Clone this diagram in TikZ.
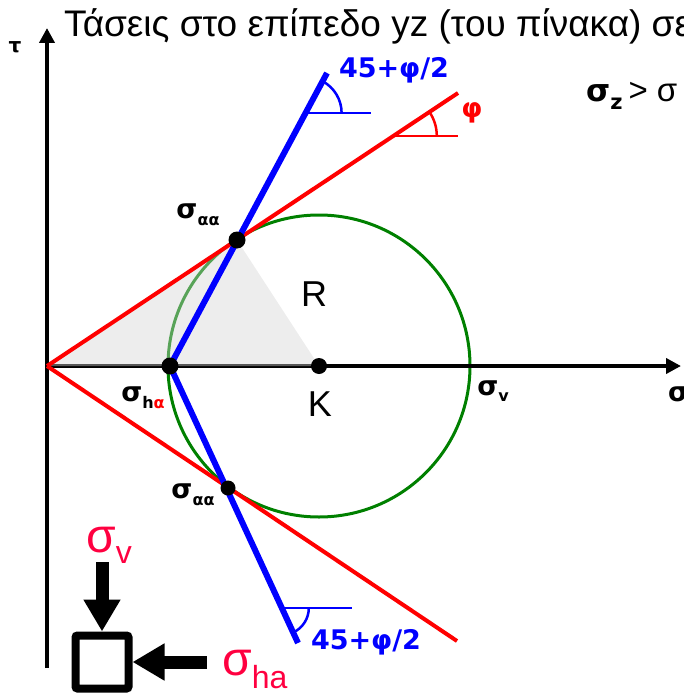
\documentclass[tikz,border=0pt]{standalone}
\usepackage{fontspec}
\setmainfont{Liberation Sans}
\setsansfont{Liberation Sans}
\newfontfamily\lblfont{DejaVu Sans}
\usepackage{xcolor}
\usepackage{tikz}
\usetikzlibrary{arrows.meta, positioning}
\definecolor{sigred}{RGB}{255,0,64}
\definecolor{mohrgreen}{RGB}{0,128,0}
\newcommand{\fsz}[1]{\fontsize{#1}{#1}\selectfont}
\newcommand{\lowsub}[3]{\raisebox{-#1pt}{\fsz{#2}#3}}

\begin{document}
\begin{tikzpicture}[
    x=1pt, y=-1pt,
    >=Stealth,
    axis/.style={line width=4.5pt, -{Triangle[length=15pt, width=15pt]}},
    load/.style={line width=13pt, -{Triangle[length=32pt, width=35pt]}},
    dot/.style={circle, fill=black, inner sep=0pt, minimum size=#1},
    lbl/.style={font=\lblfont\bfseries\fsz{27}, inner sep=0pt},
    big/.style={font=\fsz{#1}, inner sep=0pt},
    anglemark/.style={line width=2.5pt},
]
    \useasboundingbox (0,0) rectangle (684,695);

    \coordinate (O) at (47,366);
    \coordinate (K) at (319,366);
    \coordinate (taubot) at (47,668);
    \coordinate (tautop) at (47,28);
    \coordinate (sigend) at (681,366);
    \coordinate (shA) at (170,366);
    \coordinate (saaU) at (237,240);
    \coordinate (saaL) at (228,488);
    \coordinate (redU) at (458,93);
    \coordinate (redL) at (457,641);
    \coordinate (blueU) at (327,73);
    \coordinate (blueL) at (298,643);

    % Mohr circle and axes
    \draw[mohrgreen, line width=3pt] (K) circle[radius=151];
    \draw[axis] (taubot) -- (tautop);
    \draw[axis] (O) -- (sigend);
    \fill[black!17, fill opacity=0.42] (O) -- (saaU) -- (K) -- cycle;

    % envelope and failure planes
    \draw[red, line width=4pt] (O) -- (redU);
    \draw[red, line width=4pt] (O) -- (redL);
    \draw[blue, line width=6pt] (shA) -- (blueU);
    \draw[blue, line width=6pt] (shA) -- (blueL);

    % angle marks
    \coordinate (bvU) at (305.6,113);
    \coordinate (rv) at (393.8,136);
    \coordinate (bvL) at (281.8,608);
    \draw[blue, anglemark] (bvU) -- ++(65,0);
    \draw[blue, anglemark] ([xshift=36pt]bvU) arc[start angle=0, end angle=-61.8, radius=36];
    \draw[red, anglemark] (rv) -- ++(64,0);
    \draw[red, anglemark] ([xshift=43pt]rv) arc[start angle=0, end angle=-33.5, radius=43];
    \draw[blue, anglemark] (bvL) -- ++(70,0);
    \draw[blue, anglemark] ([xshift=27pt]bvL) arc[start angle=0, end angle=65.2, radius=27];

    % points
    \node[dot=17pt] (pU) at (saaU) {};
    \node[dot=17pt] (pH) at (shA) {};
    \node[dot=16pt] (pK) at (K) {};
    \node[dot=15pt] (pL) at (saaL) {};

    % labels
    \node[big=37, anchor=base west] (title) at (64,37) {Τάσεις στο επίπεδο yz (του πίνακα) σε};
    \node[big=33, anchor=base west] (cond) at (586,102) {{\lblfont\bfseries\fsz{31}σ\lowsub{8}{21}{z}}\hspace{6pt}> σ};
    \node[lbl, font=\lblfont\bfseries\fsz{20}] (taulab) at (15,47) {τ};
    \node[lbl, anchor=west] (siglab) at (668,394) {σ};
    \node[lbl, blue] (angU) at (394,70) {45+φ/2};
    \node[lbl, blue] (angL) at (366,642) {45+φ/2};
    \node[lbl, red] (philab) at (472,113) {φ};
    \node[lbl] (saaUlab) at (198,215) {σ\lowsub{7}{16}{αα}};
    \node[lbl] (saaLlab) at (193,495) {σ\lowsub{7}{16}{αα}};
    \node[lbl] (shAlab) at (143,398) {σ\lowsub{7}{16}{h\textcolor{red}{α}}};
    \node[lbl] (svlab) at (493,391) {σ\lowsub{6}{16}{v}};
    \node[big=36] (Rlab) at (314,294) {R};
    \node[big=36] (Klab) at (320,404) {K};

    % soil element
    \node[draw, line width=8pt, rounded corners=2pt, minimum size=53pt, inner sep=0pt] (elem) at (102,662) {};
    \coordinate (vtail) at (102,562);
    \coordinate (htail) at (207,662);
    \draw[load] (vtail) -- (elem.north);
    \draw[load] (htail) -- (elem.east);
    \node[big=48, sigred, anchor=base west] (sv) at (86,552) {σ\lowsub{11}{32}{v}};
    \node[big=48, sigred, anchor=base west] (sha) at (222,675) {σ\lowsub{13}{32}{ha}};
\end{tikzpicture}
\end{document}
